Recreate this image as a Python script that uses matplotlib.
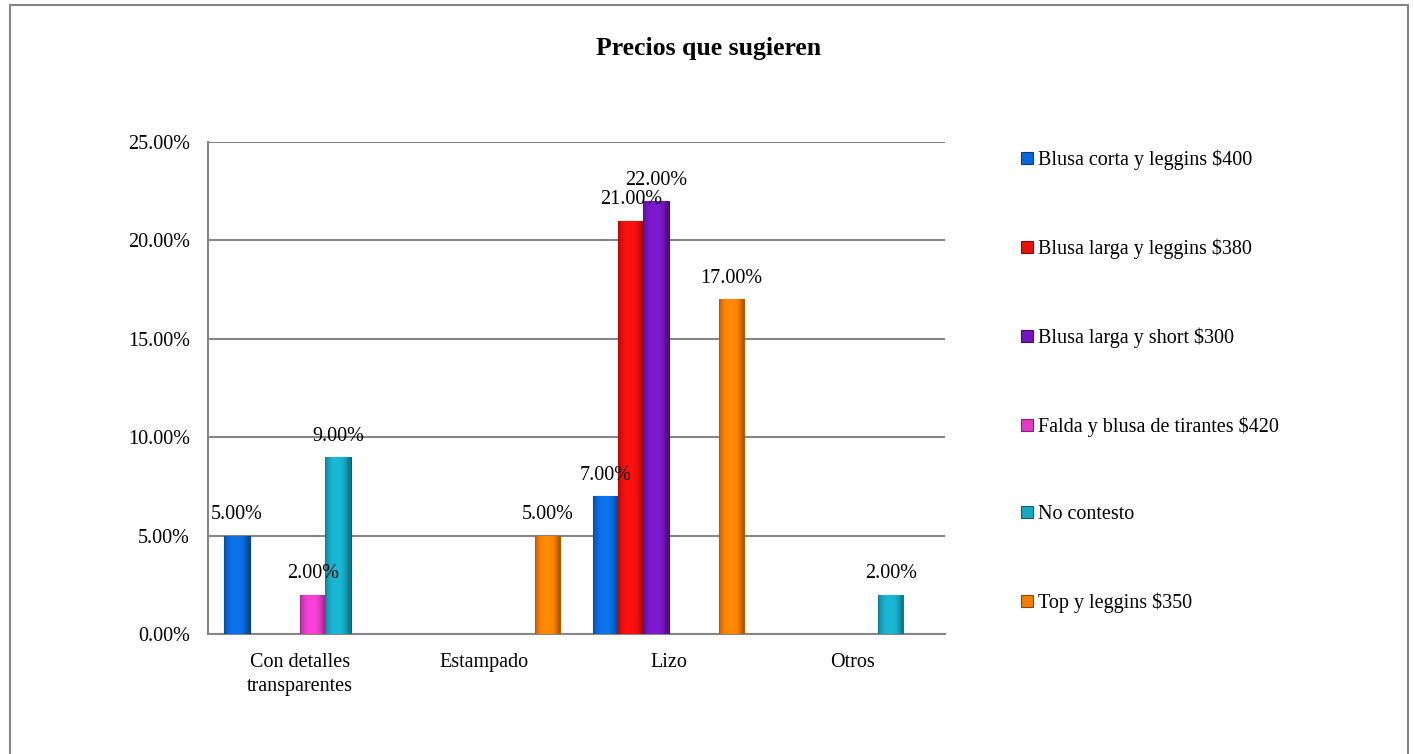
import numpy as np
import matplotlib
matplotlib.use("Agg")
import matplotlib.pyplot as plt
from matplotlib.patches import Rectangle
from matplotlib.colors import to_rgb
from matplotlib.ticker import FuncFormatter

plt.rcParams['font.family'] = ['Liberation Serif', 'DejaVu Serif']

categories = ["Con detalles\ntransparentes", "Estampado", "Lizo", "Otros"]
series_names = [
    "Blusa corta y leggins $400",
    "Blusa larga y leggins $380",
    "Blusa larga y short $300",
    "Falda y blusa de tirantes $420",
    "No contesto",
    "Top y leggins $350",
]
# percent values, None = no bar
blusa_corta = [5, None, 7, None]
blusa_larga_leggins = [None, None, 21, None]
blusa_larga_short = [None, None, 22, None]
falda = [2, None, None, None]
no_contesto = [9, None, None, 2]
top_leggins = [None, 5, 17, None]
all_series = [blusa_corta, blusa_larga_leggins, blusa_larga_short, falda, no_contesto, top_leggins]

colors = ["#0B68D6", "#E8100E", "#7416BE", "#E03CC4", "#17A7C2", "#F27D05"]
edges = ["#06407E", "#8A0808", "#420A6E", "#8A1F78", "#0B5D6C", "#8C4802"]

FS = 14.5

fig = plt.figure(figsize=(14.13, 7.54), dpi=100)
ax = fig.add_axes([0.1472, 0.1592, 0.5216, 0.6525])

# horizontal shading profile for a bevelled look
prof = np.linspace(0, 1, 40)
shade = 0.72 + 0.4 * np.sin(np.pi * np.clip(prof * 1.1, 0, 1)) ** 0.6
shade = np.clip(shade, 0, 1.1)

x = np.arange(len(categories))
width = 0.137
n = len(all_series)
for i, (vals, name) in enumerate(zip(all_series, series_names)):
    offs = (i - (n - 1) / 2) * width
    v = np.array([np.nan if a is None else a for a in vals], dtype=float)
    bars = ax.bar(x + offs, v, width, color=colors[i], edgecolor=edges[i],
                  linewidth=0.8, label=name, zorder=3)
    base = np.array(to_rgb(colors[i]))
    img = np.clip(base[None, :] * shade[:, None], 0, 1)[None, :, :]
    for b, val in zip(bars, v):
        if np.isnan(val):
            continue
        im = ax.imshow(img, extent=(b.get_x(), b.get_x() + b.get_width(), 0, val),
                       aspect='auto', zorder=3.5, interpolation='bilinear')
        im.set_clip_path(b)
        ax.annotate(f"{val:.2f}%", (b.get_x() + b.get_width() / 2, val), xytext=(0, 15),
                    textcoords="offset points", ha="center", va="center",
                    fontsize=FS, zorder=5)

ax.set_xlim(-0.5, len(categories) - 0.5)
ax.set_ylim(0, 25)
ax.set_yticks(np.arange(0, 26, 5))
ax.yaxis.set_major_formatter(FuncFormatter(lambda v, p: f"{v:.2f}%"))
ax.set_xticks(x)
ax.set_xticklabels(categories, fontsize=FS, linespacing=1.3)
ax.tick_params(axis='y', labelsize=FS, length=0, pad=13)
ax.tick_params(axis='x', length=0, pad=14)
ax.grid(axis='y', color='#868686', linewidth=1.5, zorder=0)
for s in ['top', 'right']:
    ax.spines[s].set_visible(False)
for s in ['left', 'bottom']:
    ax.spines[s].set_color('#868686')
    ax.spines[s].set_linewidth(1.5)

fig.text(0.5015, 0.936, "Precios que sugieren", ha="center", va="center",
         fontsize=18.5, fontweight="bold")

leg = ax.legend(loc="upper left", bbox_to_anchor=(0.7172, 0.8125), bbox_transform=fig.transFigure,
                frameon=False, fontsize=FS, labelspacing=3.4, handlelength=0.55,
                handleheight=0.55, handletextpad=0.25, borderaxespad=0)

fig.patches.append(Rectangle((0.0071, -0.01), 0.9894, 1.0034, transform=fig.transFigure,
                             fill=False, edgecolor='#868686', linewidth=1.5))

fig.savefig("out.png", dpi=100)
